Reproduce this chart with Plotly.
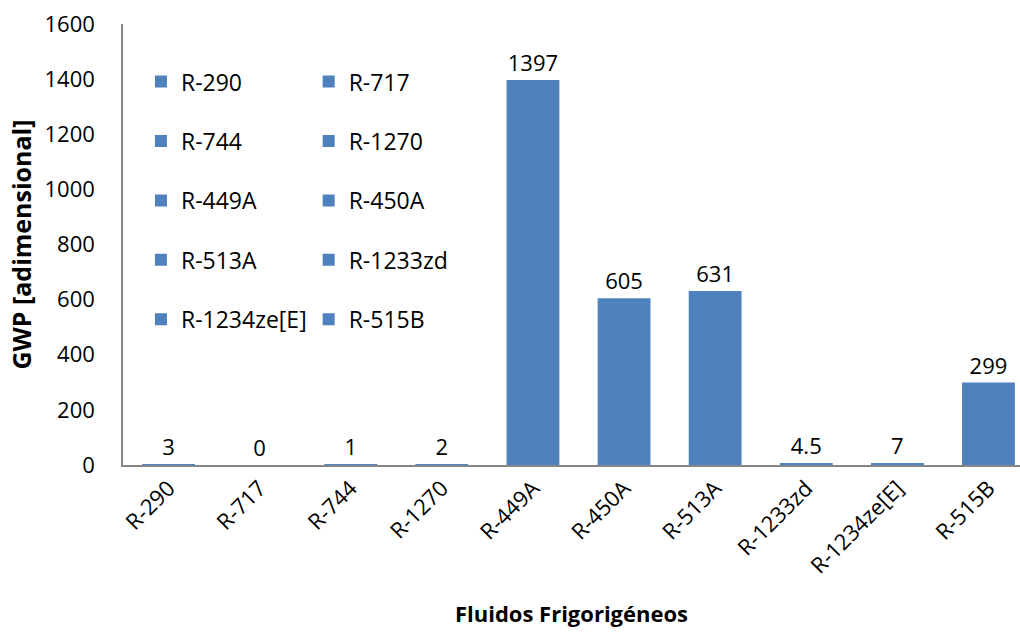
import plotly.graph_objects as go

# GWP of each refrigerant fluid
fluids = ["R-290", "R-717", "R-744", "R-1270", "R-449A",
          "R-450A", "R-513A", "R-1233zd", "R-1234ze[E]", "R-515B"]
gwp = [3, 0, 1, 2, 1397, 605, 631, 4.5, 7, 299]

BAR_BLUE = "#4F81BD"
AXIS_GREY = "#868686"
FONT = "Open Sans"

fig = go.Figure()

# one trace per fluid so each gets its own legend entry;
# first column of legend entries -> legend, second column -> legend2
for i, (name, val) in enumerate(zip(fluids, gwp)):
    fig.add_trace(go.Bar(
        x=[name], y=[val], name=name,
        marker=dict(color=BAR_BLUE, line=dict(width=0)),
        text=[f"{val:g}"], textposition="outside",
        textfont=dict(family=FONT, size=22, color="#000000"),
        cliponaxis=False,
        width=0.58,
        legend="legend" if i % 2 == 0 else "legend2",
        legendgroup=name,
    ))

legend_common = dict(
    orientation="v",
    font=dict(family=FONT, size=23, color="#000000"),
    bgcolor="rgba(0,0,0,0)",
    tracegroupgap=26.5,
    yanchor="top", xanchor="left",
    y=0.918,
)

fig.update_layout(
    width=1020, height=637,
    margin=dict(l=123, r=0, t=24, b=172),
    paper_bgcolor="white", plot_bgcolor="white",
    barmode="overlay",
    showlegend=True,
    legend=dict(x=0.02, **legend_common),
    legend2=dict(x=0.207, **legend_common),
    font=dict(family=FONT, size=22, color="#000000"),
    xaxis=dict(
        categoryorder="array", categoryarray=fluids,
        range=[-0.5, 9.5 - 14 / 91.1],
        showline=True, linecolor=AXIS_GREY, linewidth=1.5,
        ticks="", tickangle=-45,
        tickfont=dict(family=FONT, size=22, color="#000000"),
        showgrid=False, zeroline=False,
        title=dict(text="<b>Fluidos Frigorigéneos</b>",
                   font=dict(family=FONT, size=22, color="#000000"),
                   standoff=28),
        automargin=False,
    ),
    yaxis=dict(
        range=[0, 1600], dtick=200,
        showline=True, linecolor=AXIS_GREY, linewidth=1.5,
        ticks="", ticklabelstandoff=22,
        tickfont=dict(family=FONT, size=22, color="#000000"),
        showgrid=False, zeroline=False,
        title=dict(text="<b>GWP [adimensional]</b>",
                   font=dict(family=FONT, size=25, color="#000000"),
                   standoff=6),
        automargin=False,
    ),
)

fig.write_html("out.html")
